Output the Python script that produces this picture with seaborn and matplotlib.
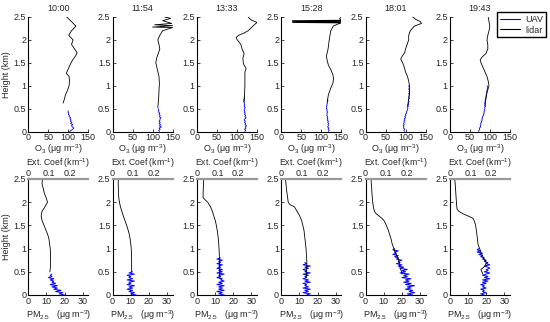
import matplotlib
matplotlib.use("Agg")
import matplotlib.pyplot as plt
from matplotlib.lines import Line2D
import seaborn as sns

# ------------------------------
# Data
# ------------------------------
times = ["10:00", "11:54", "13:33", "15:28", "18:01", "19:43"]

# shared UAV height grid (km)
uav_h = [0.000, 0.025, 0.050, 0.075, 0.100, 0.125, 0.150, 0.175, 0.200, 0.225,
         0.250, 0.275, 0.300, 0.325, 0.350, 0.375, 0.400, 0.425, 0.450, 0.475,
         0.500, 0.525, 0.550, 0.575, 0.600, 0.625, 0.650, 0.675, 0.700, 0.725,
         0.750, 0.775, 0.800, 0.825, 0.850, 0.875, 0.900, 0.925, 0.950, 0.975,
         1.000]

# UAV O3 (ug m-3)
o3_uav_1 = [103, 107, 111, 114, 110, 108, 111, 106, 109, 105, 107, 104, 106, 102, 103, 100, 101, 99, 100]
o3_uav_2 = [117, 115, 119, 116, 122, 117, 120, 116, 119, 116, 119, 118, 121, 117, 119, 116, 118, 115, 116, 114, 115]
o3_uav_3 = [120, 122, 119, 123, 121, 124, 120, 122, 119, 121, 118, 120, 123, 120, 122, 119, 121, 118, 120, 118,
            119, 121, 118, 120, 118, 119, 117, 118, 117, 119, 118]
o3_uav_4 = [118, 120, 117, 119, 116, 118, 117, 119, 116, 118, 115, 117, 115, 116, 114, 115, 114, 116, 114, 115,
            113, 114, 113, 115, 114, 116, 115, 117, 116]
o3_uav_5 = [97, 96, 98, 95, 96, 94, 97, 95, 97, 96, 99, 97, 100, 98, 101, 100, 103, 102, 104, 105,
            106, 105, 107, 106, 108, 107, 109, 107, 108, 110, 108, 109, 110, 108, 110, 109, 110, 108, 110, 109, 108]
o3_uav_6 = [72, 73, 75, 74, 77, 76, 78, 77, 79, 79, 81, 80, 82, 82, 84, 84, 86, 85, 87, 87,
            88, 87, 89, 88, 88, 87, 89, 88, 90, 89, 91, 90, 92, 91, 93, 92, 94, 93, 95, 94, 93]

# UAV PM2.5 (ug m-3)
pm_uav_1 = [20, 17, 19, 15, 18, 14, 16, 13, 16, 12, 15, 13, 14, 12, 14, 11, 13, 12, 13]
pm_uav_2 = [13, 10, 12, 9, 11, 8, 11, 9, 12, 8, 10, 9, 12, 8, 11, 9, 10, 8, 12, 9, 11]
pm_uav_3 = [15, 12, 14, 11, 15, 12, 14, 12, 15, 11, 14, 12, 15, 13, 14, 11, 13, 12, 15, 11,
            14, 12, 14, 11, 13, 12, 14, 11, 13, 12, 14, 11, 13]
pm_uav_4 = [14, 16, 12, 15, 13, 16, 12, 15, 13, 14, 12, 16, 13, 15, 12, 14, 13, 15, 12, 16,
            13, 14, 12, 15, 13, 16, 12, 14, 13]
pm_uav_5 = [26, 23, 27, 24, 26, 22, 25, 23, 27, 22, 25, 21, 24, 22, 25, 20, 23, 21, 24, 19,
            22, 20, 23, 19, 21, 18, 20, 17, 19, 18, 20, 17, 18, 16, 18, 15, 17, 16, 18, 15, 16]
pm_uav_6 = [19, 17, 20, 18, 19, 17, 20, 18, 19, 17, 20, 18, 21, 18, 22, 19, 21, 18, 20, 22,
            19, 21, 20, 22, 21, 19, 22, 20, 21, 19, 20, 18, 19, 17, 18, 16, 18, 15, 17, 15, 16]

# lidar O3 profiles
o3_lid_h1 = [0.62, 0.7, 0.8, 0.9, 1.0, 1.1, 1.2, 1.27, 1.35, 1.45, 1.55, 1.65, 1.72, 1.8, 1.9, 2.0, 2.1, 2.2, 2.3, 2.4, 2.5]
o3_lid_1 = [87, 90, 93, 98, 102, 103, 102, 95, 99, 104, 110, 118, 122, 116, 108, 112, 101, 108, 119, 108, 96]
o3_lid_h2 = [0.52, 0.7, 0.9, 1.05, 1.2, 1.35, 1.5, 1.6, 1.7, 1.8, 1.9, 2.0, 2.1, 2.2, 2.27, 2.28, 2.31, 2.33, 2.36, 2.42, 2.47, 2.5]
o3_lid_2 = [113, 115, 116, 117, 116, 112, 108, 110, 114, 118, 116, 113, 118, 125, 150, 100, 150, 105, 148, 125, 145, 130]
o3_lid_h3 = [0.65, 0.8, 1.0, 1.2, 1.3, 1.38, 1.45, 1.5, 1.6, 1.7, 1.8, 1.9, 2.0, 2.05, 2.1, 2.15, 2.2, 2.3, 2.38, 2.44, 2.5]
o3_lid_3 = [118, 119, 120, 120, 120, 123, 118, 116, 115, 118, 113, 110, 101, 98, 104, 118, 128, 140, 150, 135, 128]
o3_lid_h4 = [0.65, 0.8, 0.95, 1.05, 1.15, 1.25, 1.35, 1.45, 1.55, 1.65, 1.75, 1.85, 2.0, 2.1, 2.2, 2.3, 2.34,
             2.37, 2.38, 2.39, 2.40, 2.41, 2.42, 2.43, 2.46, 2.5]
o3_lid_4 = [115, 118, 124, 129, 131, 129, 124, 118, 115, 113, 116, 118, 120, 122, 124, 130, 140,
            150, 28, 150, 28, 150, 28, 150, 146, 150]
o3_lid_h5 = [0.55, 0.7, 0.85, 1.0, 1.1, 1.2, 1.3, 1.4, 1.5, 1.58, 1.65, 1.72, 1.8, 1.9, 2.0, 2.1, 2.2, 2.3, 2.36, 2.4, 2.45, 2.5]
o3_lid_5 = [105, 108, 110, 110, 108, 105, 100, 97, 93, 88, 92, 98, 100, 104, 108, 108, 112, 122, 140, 137, 125, 118]
o3_lid_h6 = [0.55, 0.7, 0.85, 1.0, 1.1, 1.2, 1.3, 1.4, 1.5, 1.56, 1.62, 1.7, 1.8, 1.9, 2.0, 2.1, 2.2, 2.3, 2.4, 2.5]
o3_lid_6 = [88, 90, 93, 98, 96, 93, 88, 83, 78, 76, 80, 90, 95, 95, 93, 95, 98, 100, 98, 96]

# lidar extinction coefficient profiles (km-1)
ext_h1 = [0.5, 0.6, 0.8, 1.0, 1.2, 1.3, 1.4, 1.5, 1.6, 1.7, 1.8, 1.9, 2.0, 2.1, 2.2, 2.3, 2.4, 2.5]
ext_1 = [0.104, 0.107, 0.108, 0.106, 0.100, 0.094, 0.085, 0.076, 0.067, 0.062, 0.066, 0.080, 0.093, 0.086, 0.077, 0.072, 0.066, 0.069]
ext_h2 = [0.5, 0.7, 0.9, 1.0, 1.1, 1.2, 1.3, 1.4, 1.5, 1.6, 1.7, 1.8, 1.9, 2.0, 2.1, 2.2, 2.3, 2.4, 2.5]
ext_2 = [0.092, 0.092, 0.091, 0.090, 0.088, 0.085, 0.081, 0.075, 0.068, 0.060, 0.052, 0.045, 0.038, 0.033, 0.030, 0.028, 0.028, 0.027, 0.028]
ext_h3 = [0.35, 0.5, 0.6, 0.8, 1.0, 1.2, 1.4, 1.5, 1.6, 1.7, 1.8, 1.9, 2.0, 2.05, 2.1, 2.2, 2.3, 2.4, 2.5]
ext_3 = [0.111, 0.110, 0.110, 0.109, 0.107, 0.104, 0.098, 0.094, 0.089, 0.082, 0.075, 0.066, 0.052, 0.040, 0.030, 0.030, 0.031, 0.032, 0.033]
ext_h4 = [0.4, 0.5, 0.7, 1.0, 1.2, 1.4, 1.6, 1.7, 1.8, 1.9, 1.95, 2.0, 2.1, 2.2, 2.3, 2.4, 2.5]
ext_4 = [0.122, 0.123, 0.124, 0.120, 0.115, 0.110, 0.099, 0.090, 0.077, 0.064, 0.042, 0.034, 0.031, 0.028, 0.025, 0.023, 0.021]
ext_h5 = [0.45, 0.5, 0.6, 0.7, 0.8, 0.9, 1.0, 1.1, 1.2, 1.3, 1.4, 1.5, 1.6, 1.65, 1.7, 1.75, 1.8, 1.9, 2.0, 2.1, 2.2, 2.3, 2.4, 2.5]
ext_5 = [0.176, 0.174, 0.166, 0.163, 0.158, 0.145, 0.137, 0.129, 0.124, 0.117, 0.110, 0.101, 0.090, 0.080, 0.066, 0.052,
         0.043, 0.038, 0.035, 0.033, 0.031, 0.030, 0.028, 0.027]
ext_h6 = [0.45, 0.5, 0.55, 0.62, 0.7, 0.8, 0.9, 1.0, 1.1, 1.2, 1.3, 1.4, 1.5, 1.6, 1.65, 1.7, 1.75, 1.8, 1.85, 2.0, 2.2, 2.4, 2.5]
ext_6 = [0.160, 0.155, 0.150, 0.170, 0.176, 0.163, 0.152, 0.144, 0.136, 0.134, 0.131, 0.128, 0.125, 0.118, 0.112, 0.090,
         0.064, 0.045, 0.035, 0.032, 0.029, 0.026, 0.024]

o3_uav = [o3_uav_1, o3_uav_2, o3_uav_3, o3_uav_4, o3_uav_5, o3_uav_6]
pm_uav = [pm_uav_1, pm_uav_2, pm_uav_3, pm_uav_4, pm_uav_5, pm_uav_6]
o3_lid = [(o3_lid_h1, o3_lid_1), (o3_lid_h2, o3_lid_2), (o3_lid_h3, o3_lid_3),
          (o3_lid_h4, o3_lid_4), (o3_lid_h5, o3_lid_5), (o3_lid_h6, o3_lid_6)]
ext_lid = [(ext_h1, ext_1), (ext_h2, ext_2), (ext_h3, ext_3),
           (ext_h4, ext_4), (ext_h5, ext_5), (ext_h6, ext_6)]

# ------------------------------
# Style
# ------------------------------
sns.set_style("ticks")
plt.rcParams["font.family"] = ["Liberation Sans", "DejaVu Sans"]
plt.rcParams["font.size"] = 6.5
plt.rcParams["xtick.direction"] = "in"
plt.rcParams["ytick.direction"] = "in"
plt.rcParams["xtick.major.size"] = 2
plt.rcParams["ytick.major.size"] = 2
plt.rcParams["axes.linewidth"] = 0.8
plt.rcParams["axes.edgecolor"] = "black"
plt.rcParams["mathtext.default"] = "regular"

fig = plt.figure(figsize=(5.5, 3.22), dpi=100)

W, H = 550.0, 322.0
lefts = [28.3, 112.6, 196.9, 281.2, 365.5, 449.8]
pw = 60.0

yticks = [0, 0.5, 1, 1.5, 2, 2.5]
ylabels = ["0", "0.5", "1", "1.5", "2", "2.5"]

for i in range(6):
    # ---- top row: O3 ----
    ax = fig.add_axes([lefts[i] / W, 1 - 131.5 / H, pw / W, 114.5 / H])
    n = len(o3_uav[i])
    sns.lineplot(x=o3_uav[i], y=uav_h[:n], sort=False, estimator=None,
                 color="blue", linewidth=0.6, ax=ax)
    lh, lv = o3_lid[i]
    sns.lineplot(x=lv, y=lh, sort=False, estimator=None,
                 color="black", linewidth=0.6, ax=ax)
    ax.set_xlim(0, 150)
    ax.set_ylim(0, 2.5)
    ax.set_xticks([0, 50, 100, 150])
    ax.set_yticks(yticks)
    ax.set_yticklabels(ylabels)
    ax.tick_params(labelsize=6.5, pad=1.5, width=0.6)
    ax.tick_params(axis="x", pad=1)
    ax.set_xlabel("O$_3$ (μg m$^{-3}$)", fontsize=6.5, labelpad=0)
    ax.set_ylabel("Height (km)" if i == 0 else "", fontsize=6.5, labelpad=2)
    ax.set_title(times[i], fontsize=6.5, pad=4)
    sns.despine(ax=ax)

    # ---- bottom row: PM2.5 + extinction ----
    bx = fig.add_axes([lefts[i] / W, 1 - 295 / H, pw / W, 116 / H])
    n = len(pm_uav[i])
    sns.lineplot(x=pm_uav[i], y=uav_h[:n], sort=False, estimator=None,
                 color="blue", linewidth=0.7, ax=bx)
    bx.set_xlim(0, 33)
    bx.set_ylim(0, 2.5)
    bx.set_xticks([0, 10, 20, 30])
    bx.set_yticks(yticks)
    bx.set_yticklabels(ylabels)
    bx.tick_params(labelsize=6.5, pad=1.5, width=0.6)
    bx.set_xlabel("PM$_{2.5}$   (μg m$^{-3}$)", fontsize=6.5, labelpad=1.5)
    bx.set_ylabel("Height (km)" if i == 0 else "", fontsize=6.5, labelpad=2)
    sns.despine(ax=bx)

    tx = bx.twiny()
    eh, ev = ext_lid[i]
    sns.lineplot(x=ev, y=eh, sort=False, estimator=None,
                 color="black", linewidth=0.6, ax=tx)
    tx.set_xlim(0, 0.29)
    tx.set_ylim(0, 2.5)
    tx.set_xticks([0, 0.1, 0.2])
    tx.set_xticklabels(["0", "0.1", "0.2"])
    tx.tick_params(labelsize=6.5, pad=1, width=0.6, length=0)
    tx.set_xlabel("Ext. Coef (km$^{-1}$)", fontsize=6.2, labelpad=2)
    tx.set_ylabel("")
    for side in ["left", "right", "bottom"]:
        tx.spines[side].set_visible(False)
    tx.spines["top"].set_color("#999999")
    tx.spines["top"].set_linewidth(1.6)

handles = [Line2D([], [], color="blue", linewidth=0.8),
           Line2D([], [], color="black", linewidth=0.8)]
fig.legend(handles, ["UAV", "lidar"], loc="upper left",
           bbox_to_anchor=(497 / W, 1 - 12 / H), fontsize=6.5,
           fancybox=False, edgecolor="black", framealpha=1,
           handlelength=2.3, borderpad=0.3, labelspacing=0.2,
           handletextpad=0.5, borderaxespad=0)

fig.savefig("out.png", dpi=100)
